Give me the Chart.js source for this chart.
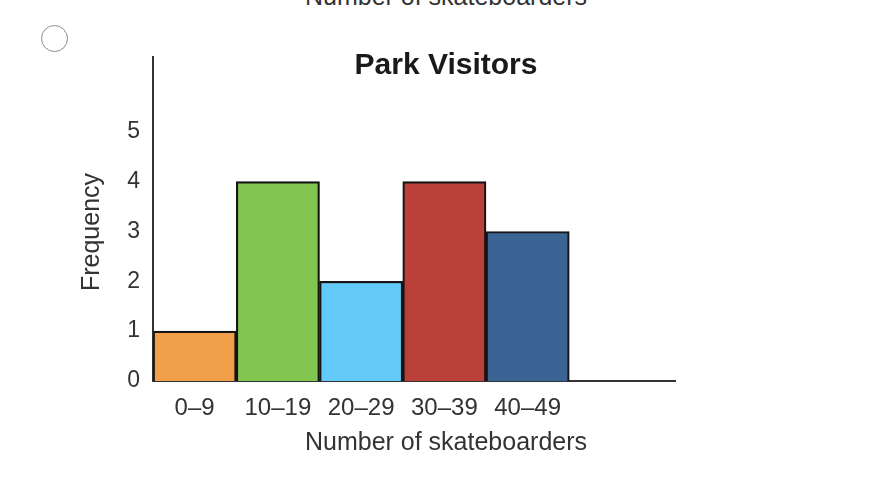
<!DOCTYPE html>
<html>
<head>
<meta charset="utf-8">
<script src="https://cdn.jsdelivr.net/npm/chart.js@4.4.1/dist/chart.umd.min.js"></script>
<style>
  html, body { margin: 0; padding: 0; background: #fff; overflow: hidden; }
  #wrap { position: relative; width: 896px; height: 486px; }
  #c { position: absolute; left: 0; top: 0; }
  #cut { position: absolute; left: 0; top: -18px; width: 892px; text-align: center;
         font: 25px "Liberation Sans", Arial, sans-serif; line-height: 28.8px; color: #333; }
  #radio { position: absolute; left: 41px; top: 25px; width: 27px; height: 27px; border-radius: 50%;
           border: 1.5px solid #8a8a8a; box-sizing: border-box; background: #fff; }
</style>
</head>
<body>
<div id="wrap">
  <div id="cut">Number of skateboarders</div>
  <div id="radio"></div>
  <canvas id="c" width="896" height="486"></canvas>
</div>
<script>
const chartTitle = 'Park Visitors';
const xTitle = 'Number of skateboarders';
const yTitle = 'Frequency';
const bins = ['0–9', '10–19', '20–29', '30–39', '40–49'];
const binLower = [0, 10, 20, 30, 40];
const binWidth = 10;
const frequency = [1, 4, 2, 4, 3];
const barColors = ['#F29F4B', '#82C650', '#62C9F8', '#BA4039', '#3B6494'];
const yTicks = [0, 1, 2, 3, 4, 5];

const FONT = '"Liberation Sans", Arial, sans-serif';

const textPlugin = {
  id: 'fixedTexts',
  afterDraw(chart) {
    const ctx = chart.ctx;
    ctx.save();
    ctx.textAlign = 'center';
    ctx.textBaseline = 'middle';
    ctx.font = 'bold 30px ' + FONT;
    ctx.fillStyle = '#1a1a1a';
    ctx.fillText(chartTitle, 446, 66);
    ctx.font = '25px ' + FONT;
    ctx.fillStyle = '#333';
    ctx.fillText(xTitle, 446, 443);
    ctx.translate(92, 232);
    ctx.rotate(-Math.PI / 2);
    ctx.fillText(yTitle, 0, 0);
    ctx.restore();
  }
};

new Chart(document.getElementById('c'), {
  type: 'bar',
  data: {
    datasets: [{
      data: binLower.map((lo, i) => ({ x: lo + binWidth / 2, y: frequency[i] })),
      backgroundColor: barColors,
      borderColor: '#151515',
      borderWidth: 2.2,
      barPercentage: 1.0,
      categoryPercentage: 1.0
    }]
  },
  options: {
    responsive: false,
    animation: false,
    devicePixelRatio: 1,
    layout: { padding: { left: 0, right: 221, top: 57, bottom: 66 } },
    plugins: {
      legend: { display: false },
      tooltip: { enabled: false },
      title: { display: false }
    },
    scales: {
      x: {
        type: 'linear',
        offset: false,
        min: 0,
        max: 62.7,
        grid: { display: false, offset: false },
        border: { display: true, color: '#333', width: 2 },
        afterBuildTicks(scale) {
          scale.ticks = binLower.map(lo => ({ value: lo + binWidth / 2 }));
        },
        afterFit(scale) { scale.height = 39; },
        ticks: {
          autoSkip: false,
          maxRotation: 0,
          padding: 5,
          color: '#333',
          font: { family: FONT, size: 24 },
          callback: (v, i) => bins[i]
        }
      },
      y: {
        type: 'linear',
        min: 0,
        max: 6.5,
        grid: { display: false },
        border: { display: true, color: '#333', width: 2 },
        afterBuildTicks(scale) {
          scale.ticks = yTicks.map(v => ({ value: v }));
        },
        afterFit(scale) { scale.width = 153; },
        ticks: {
          padding: 5,
          color: '#333',
          font: { family: FONT, size: 23 }
        }
      }
    }
  },
  plugins: [textPlugin]
});
</script>
</body>
</html>
